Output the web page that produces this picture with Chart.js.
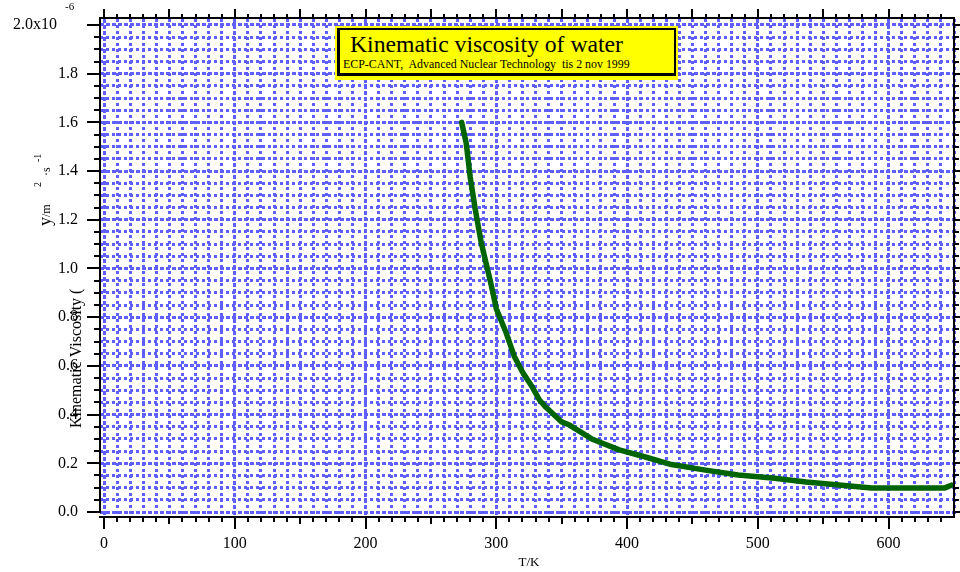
<!DOCTYPE html>
<html>
<head>
<meta charset="utf-8">
<script src="https://cdn.jsdelivr.net/npm/chart.js@4"></script>
<style>
html,body{margin:0;padding:0;background:#fff;}
#wrap{position:relative;width:960px;height:572px;overflow:hidden;}
#c{position:absolute;left:0;top:0;}
#box{position:absolute;left:335px;top:26px;width:343px;height:54px;background:#ffff00;}
#inner{position:absolute;left:2px;top:2px;width:334px;height:43px;border:2px solid #000;border-left-width:3px;border-bottom-width:3px;}
.t{position:absolute;font-family:"Liberation Serif","Times New Roman",serif;color:#000;white-space:pre;line-height:1.15;}
#title{left:350px;top:31px;font-size:23.7px;}
#sub{left:343px;top:58px;font-size:11.9px;}
</style>
</head>
<body>
<div id="wrap">
<canvas id="c" width="960" height="572"></canvas>
<div id="box"><div id="inner"></div></div>
<div class="t" id="title">Kinematic viscosity of water</div>
<div class="t" id="sub">ECP-CANT,  Advanced Nuclear Technology  tis 2 nov 1999</div>
</div>
<script>
// ---- data (T in K, kinematic viscosity in 1e-6 m^2/s)
const temperatureK = [273.5, 277, 280, 284, 288.5, 294.7, 297, 300, 307.6, 313.7, 320, 327.5, 333, 338, 350, 356, 373, 394, 414, 434, 460, 485, 511, 537, 562, 587, 613, 643, 648];
const viscosity    = [1.60, 1.515, 1.376, 1.24, 1.105, 0.965, 0.91, 0.835, 0.735, 0.64, 0.575, 0.513, 0.46, 0.43, 0.37, 0.357, 0.30, 0.255, 0.226, 0.195, 0.172, 0.152, 0.14, 0.123, 0.111, 0.099, 0.099, 0.099, 0.11];

const xMajorTicks = [0, 100, 200, 300, 400, 500, 600];
const xTickLabels = ['0', '100', '200', '300', '400', '500', '600'];
const yMajorTicks = [0.0, 0.2, 0.4, 0.6, 0.8, 1.0, 1.2, 1.4, 1.6, 1.8, 2.0];
const yTickLabels = ['0.0', '0.2', '0.4', '0.6', '0.8', '1.0', '1.2', '1.4', '1.6', '1.8', '2.0x10'];
const yExponentLabel = '-6';
const xTitle = 'T/K';
const yTitle = 'Kinematic Viscosity (';
const yUnitParts = ['y', '/m', '2', '·s', '-1'];

const X_MINOR = 10, Y_MINOR = 0.05;
const FONT = '"Liberation Serif","Times New Roman",serif';

const points = temperatureK.map((t, i) => ({x: t, y: viscosity[i]}));

function isXMajor(v){ return Math.abs(v/100 - Math.round(v/100)) < 1e-6; }
function isYMajor(v){ return Math.abs(v/0.2 - Math.round(v/0.2)) < 1e-6; }
function noPad(s){ s.paddingTop = 0; s.paddingBottom = 0; s.paddingLeft = 0; s.paddingRight = 0; }

const axesPlugin = {
  id: 'igorAxes',
  afterDraw(chart){
    const ctx = chart.ctx, a = chart.chartArea, xs = chart.scales.x, ys = chart.scales.y;
    ctx.save();
    ctx.strokeStyle = '#000';
    ctx.lineWidth = 2;
    const line = (x1,y1,x2,y2) => { ctx.beginPath(); ctx.moveTo(x1,y1); ctx.lineTo(x2,y2); ctx.stroke(); };
    const topY = a.top - 1, botY = a.bottom + 1;
    const y0 = Math.round(ys.getPixelForValue(0));
    // axis lines
    line(a.left, topY, a.left, y0 + 1);
    line(a.left - 1, botY, a.right, botY);
    line(a.left - 1, topY, a.right + 1, topY);
    line(a.right, topY, a.right, botY + 1);
    // x ticks
    for (let k = 0; k * X_MINOR <= xs.max + 1e-9; k++) {
      const v = k * X_MINOR;
      const px = Math.round(xs.getPixelForValue(v));
      const lb = v % 100 === 0 ? 12 : (v % 50 === 0 ? 7 : 5);
      const lt = v % 50 === 0 ? 9 : 4;
      if (px < a.right - 2) { line(px, botY, px, botY + lb); line(px, topY, px, topY - lt); }
    }
    // y ticks
    for (let k = 0; k * Y_MINOR <= ys.max + 1e-9; k++) {
      const v = k * Y_MINOR;
      const py = Math.round(ys.getPixelForValue(v));
      const ll = k % 4 === 0 ? 13 : 6;
      const lr = k % 4 === 0 ? 9 : 5;
      line(a.left, py, a.left - ll, py);
      line(a.right, py, a.right + lr, py);
    }
    // exponent label on the top y tick
    ctx.fillStyle = '#000';
    ctx.textBaseline = 'alphabetic';
    ctx.textAlign = 'right';
    ctx.font = '16px ' + FONT;
    const yTop = ys.getPixelForValue(2.0);
    ctx.fillText(yTickLabels[yTickLabels.length - 1], a.left - 43, yTop + 4);
    ctx.textAlign = 'left';
    ctx.font = '11px ' + FONT;
    ctx.fillText(yExponentLabel, a.left - 35, yTop - 15);
    // y axis title (rotated)
    const rot = (txt, x, y, size) => {
      ctx.save(); ctx.translate(x, y); ctx.rotate(-Math.PI/2);
      ctx.font = size + 'px ' + FONT; ctx.textAlign = 'left'; ctx.fillText(txt, 0, 0); ctx.restore();
    };
    rot(yTitle, 80.5, 428, 16);
    rot(yUnitParts[0], 51, 226, 18);
    rot(yUnitParts[1], 50, 217, 12);
    rot(yUnitParts[2], 41, 187, 10);
    rot(yUnitParts[3], 50, 176, 12);
    rot(yUnitParts[4], 41, 162, 10);
    // x axis title
    ctx.textAlign = 'center';
    ctx.font = '13px ' + FONT;
    ctx.fillText(xTitle, xs.getPixelForValue(325), 566);
    ctx.restore();
  }
};

new Chart(document.getElementById('c'), {
  type: 'line',
  data: {
    datasets: [{
      data: points,
      borderColor: '#006400',
      borderWidth: 5.5,
      borderCapStyle: 'round',
      borderJoinStyle: 'round',
      pointRadius: 0,
      tension: 0,
      fill: false
    }]
  },
  options: {
    responsive: false,
    animation: false,
    devicePixelRatio: 1,
    layout: { padding: { top: 19, right: 6, left: 0, bottom: 0 } },
    plugins: { legend: { display: false }, title: { display: false }, tooltip: { enabled: false } },
    scales: {
      x: {
        type: 'linear',
        min: -3.06,
        max: 650,
        afterBuildTicks: s => {
          const t = [];
          for (let k = 0; k * X_MINOR <= 650; k++) t.push({value: k * X_MINOR});
          s.ticks = t;
        },
        afterFit: s => { s.height = 56; noPad(s); },
        border: { display: false, dash: c => isXMajor(c.tick ? c.tick.value : 0) ? [4, 2] : [3, 3] },
        grid: { color: '#5f5fff', lineWidth: 3, drawTicks: false },
        ticks: {
          autoSkip: false, maxRotation: 0, padding: 18, color: '#000',
          font: { family: FONT, size: 16 },
          callback: v => { const i = xMajorTicks.indexOf(Math.round(v)); return (i >= 0 && Math.abs(v - xMajorTicks[i]) < 1e-6) ? xTickLabels[i] : ''; }
        }
      },
      y: {
        type: 'linear',
        min: -0.0164,
        max: 2.0246,
        afterBuildTicks: s => {
          const t = [];
          for (let k = 0; k <= 40; k++) t.push({value: Math.round(k * Y_MINOR * 100) / 100});
          s.ticks = t;
        },
        afterFit: s => { s.width = 100; noPad(s); },
        border: { display: false, dash: c => isYMajor(c.tick ? c.tick.value : 0) ? [4, 2] : [3, 3] },
        grid: { color: '#5f5fff', lineWidth: 3, drawTicks: false },
        ticks: {
          autoSkip: false, padding: 22, color: '#000',
          font: { family: FONT, size: 16 },
          callback: v => {
            for (let i = 0; i < yMajorTicks.length - 1; i++) if (Math.abs(v - yMajorTicks[i]) < 1e-6) return yTickLabels[i];
            return '';
          }
        }
      }
    }
  },
  plugins: [axesPlugin]
});
</script>
</body>
</html>
